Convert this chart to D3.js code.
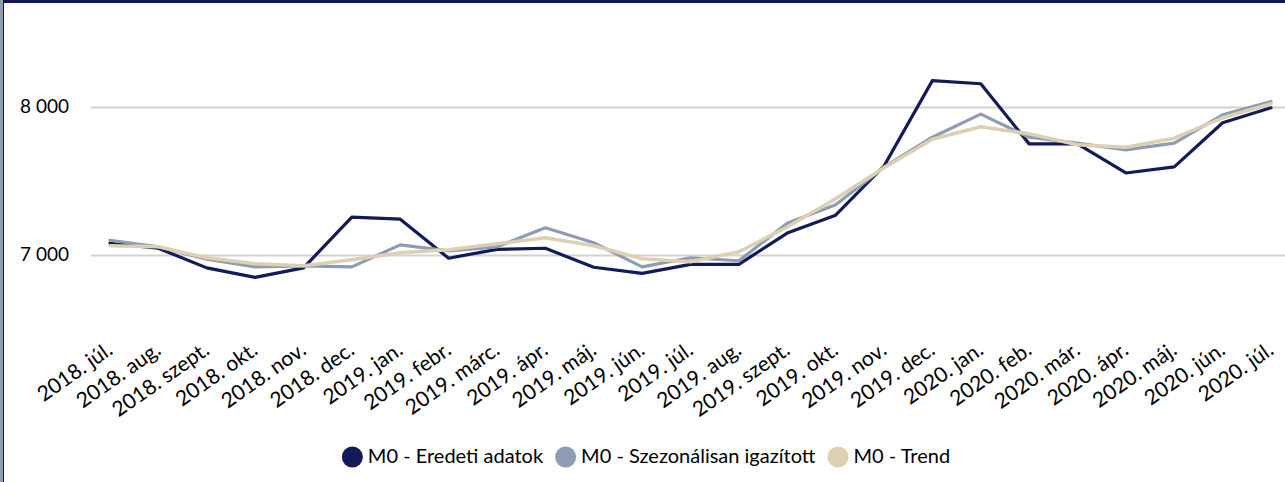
<!DOCTYPE html>
<html>
<head>
<meta charset="utf-8">
<script src="https://cdn.jsdelivr.net/npm/d3@7"></script>
<style>
  body { margin: 0; background: #fff; }
  svg { display: block; font-family: Lato, "Open Sans", sans-serif; }
</style>
</head>
<body>
<div id="chart"></div>
<script>
// months on the x axis
const months = [
  "2018. júl.", "2018. aug.", "2018. szept.", "2018. okt.", "2018. nov.", "2018. dec.",
  "2019. jan.", "2019. febr.", "2019. márc.", "2019. ápr.", "2019. máj.", "2019. jún.",
  "2019. júl.", "2019. aug.", "2019. szept.", "2019. okt.", "2019. nov.", "2019. dec.",
  "2020. jan.", "2020. feb.", "2020. már.", "2020. ápr.", "2020. máj.", "2020. jún.", "2020. júl."
];

const eredeti = [7080, 7047, 6915, 6851, 6915, 7257, 7243, 6980, 7040, 7047, 6919, 6878,
  6939, 6939, 7149, 7270, 7601, 8176, 8155, 7750, 7750, 7554, 7595, 7892, 7993];
const szezonalis = [7101, 7057, 6973, 6922, 6929, 6922, 7070, 7030, 7057, 7185, 7084, 6922,
  6983, 6963, 7215, 7340, 7593, 7795, 7950, 7795, 7755, 7710, 7755, 7946, 8035];
const trend = [7064, 7057, 6983, 6943, 6929, 6970, 7017, 7037, 7077, 7118, 7064, 6976,
  6956, 7024, 7190, 7380, 7589, 7781, 7865, 7818, 7744, 7727, 7788, 7926, 8020];

const seriesNames = ["M0 - Eredeti adatok", "M0 - Szezonálisan igazított", "M0 - Trend"];
const seriesColors = ["#121a58", "#8d9cb2", "#dccfb2"];
const yTicks = [7000, 8000];

const width = 1285, height = 482;

const svg = d3.select("#chart").append("svg")
  .attr("width", width)
  .attr("height", height);

// frame: navy strip on top, grey-blue strip on the left
svg.append("rect").attr("x", 0).attr("y", 0).attr("width", width).attr("height", 3).attr("fill", "#0f1852");
svg.append("rect").attr("x", 0).attr("y", 0).attr("width", 3).attr("height", height).attr("fill", "#8d9ab0");
svg.append("rect").attr("x", 3).attr("y", 0).attr("width", 1).attr("height", height).attr("fill", "#1a1a2a");

const x = d3.scalePoint()
  .domain(months)
  .range([110, 1271]);

const y = d3.scaleLinear()
  .domain([6500, 8500])
  .range([329.5, 32.5]);

const huFormat = d3.formatLocale({ decimal: ",", thousands: " ", grouping: [3], currency: ["", ""] }).format(",");

// gridlines
svg.append("g")
  .selectAll("line")
  .data(yTicks)
  .enter().append("line")
  .attr("x1", 91)
  .attr("x2", width)
  .attr("y1", d => Math.round(y(d)) + 0.5)
  .attr("y2", d => Math.round(y(d)) + 0.5)
  .attr("stroke", "#d2d2d2")
  .attr("stroke-width", 2);

// y labels
svg.append("g")
  .selectAll("text")
  .data(yTicks)
  .enter().append("text")
  .attr("x", 69)
  .attr("y", d => y(d) + 1)
  .attr("text-anchor", "end")
  .attr("dominant-baseline", "middle")
  .style("font-size", "19px")
  .style("fill", "#000")
  .text(d => huFormat(d));

// x labels, rotated
svg.append("g")
  .selectAll("text")
  .data(months)
  .enter().append("text")
  .attr("transform", d => "translate(" + (x(d) + 4) + ",353) rotate(-35)")
  .attr("text-anchor", "end")
  .style("font-size", "21px")
  .style("fill", "#000")
  .text(d => d);

// lines
const line = d3.line()
  .x((d, i) => x(months[i]))
  .y(d => y(d));

const allSeries = [eredeti, szezonalis, trend];

svg.append("g")
  .selectAll("path")
  .data(allSeries)
  .enter().append("path")
  .attr("d", line)
  .attr("fill", "none")
  .attr("stroke", (d, i) => seriesColors[i])
  .attr("stroke-width", (d, i) => i === 2 ? 3.5 : 3.2)
  .attr("stroke-linejoin", "round")
  .attr("stroke-linecap", "round");

// legend
const legend = svg.append("g");
const items = legend.selectAll("g")
  .data(seriesNames)
  .enter().append("g");

items.append("circle")
  .attr("r", 10.5)
  .attr("cx", 10.5)
  .attr("cy", 0)
  .attr("fill", (d, i) => seriesColors[i]);

items.append("text")
  .attr("x", 26)
  .attr("y", 1)
  .attr("dominant-baseline", "middle")
  .style("font-size", "20px")
  .style("fill", "#000")
  .text(d => d);

let offset = 0;
items.each(function() {
  const g = d3.select(this);
  const w = g.select("text").node().getComputedTextLength();
  g.attr("transform", "translate(" + offset + ",0)");
  offset += 26 + w + 12;
});
const total = offset - 12;
legend.attr("transform", "translate(" + (646 - total / 2) + ",457)");
</script>
</body>
</html>
